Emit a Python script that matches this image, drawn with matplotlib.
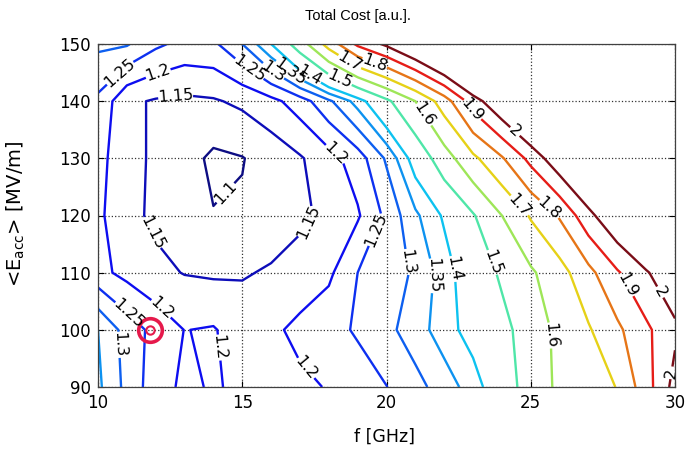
import numpy as np
import matplotlib
matplotlib.use('Agg')
import matplotlib.pyplot as plt

plt.rcParams['font.family'] = ['Liberation Sans', 'DejaVu Sans']

# scan grid: rf frequency [GHz] and average accelerating gradient [MV/m]
freq = [10, 11, 12, 13, 14, 15, 16, 17, 18, 19, 20,
        21, 22, 23, 24, 25, 26, 27, 28, 29, 30]
eacc = [90, 100, 110, 120, 130, 140, 150]

# total cost [a.u.], one row per gradient
cost_90 = [1.36, 1.285, 1.222, 1.19, 1.205, 1.19, 1.185, 1.19, 1.203, 1.226, 1.249,
           1.283, 1.324, 1.374, 1.449, 1.544, 1.619, 1.66, 1.703, 1.857, 2.036]
cost_100 = [1.35, 1.279, 1.233, 1.199, 1.204, 1.175, 1.19, 1.2125, 1.233, 1.256, 1.286,
            1.326, 1.376, 1.425, 1.474, 1.544, 1.626, 1.69, 1.78, 1.88, 1.98]
cost_110 = [1.215, 1.185, 1.162, 1.148, 1.143, 1.146, 1.155, 1.17, 1.19, 1.25, 1.276,
            1.307, 1.375, 1.443, 1.514, 1.586, 1.662, 1.771, 1.889, 1.99, 2.08]
cost_120 = [1.21, 1.165, 1.14, 1.125, 1.102, 1.105, 1.125, 1.14, 1.1625, 1.194, 1.262,
            1.34, 1.408, 1.492, 1.6, 1.71, 1.81, 1.97, 2.1, 2.2, 2.3]
cost_130 = [1.215, 1.17, 1.14, 1.12, 1.09, 1.098, 1.12, 1.145, 1.18, 1.225, 1.307,
            1.43, 1.555, 1.678, 1.79, 1.93, 2.08, 2.2, 2.3, 2.4, 2.5]
cost_140 = [1.24, 1.16, 1.145, 1.14, 1.145, 1.16, 1.185, 1.225, 1.29, 1.37, 1.48,
            1.6, 1.75, 1.95, 2.1, 2.25, 2.35, 2.45, 2.55, 2.65, 2.75]
cost_150 = [1.31, 1.305, 1.26, 1.235, 1.24, 1.30, 1.40, 1.55, 1.74, 1.92, 2.02,
            2.15, 2.3, 2.45, 2.6, 2.7, 2.8, 2.9, 3.0, 3.1, 3.2]

levels = [1.1, 1.15, 1.2, 1.25, 1.3, 1.35, 1.4, 1.5, 1.6, 1.7, 1.8, 1.9, 2.0]

# chosen working point
opt_f = 11.8
opt_e = 100

# where the contour labels sit
label_pos = [(10.9, 144.2), (12.1, 144.6), (12.7, 140.5), (15.1, 144.6),
             (16.1, 145.5), (16.7, 145.5), (17.4, 145.0), (18.4, 144.0),
             (18.8, 147.5), (19.6, 146.8), (21.1, 137.0), (22.8, 137.9),
             (24.4, 134.4), (18.2, 130.6), (14.3, 124.5), (11.45, 116.0),
             (17.45, 118.3), (20.05, 116.6), (20.9, 112.0), (21.3, 109.6),
             (22.2, 110.5), (23.4, 111.3), (25.55, 99.0), (24.5, 121.3),
             (25.5, 120.4), (28.3, 107.8), (29.45, 106.5), (29.85, 92.5),
             (11.0, 102.5), (12.15, 103.5), (10.4, 97.3), (14.4, 97.0),
             (17.25, 93.5)]

cost = np.array([cost_90, cost_100, cost_110, cost_120, cost_130, cost_140, cost_150])

# jet colours, softened a little like the screenshot
jet = plt.get_cmap('jet')
lvl_norm = (np.array(levels) - levels[0]) / (levels[-1] - levels[0])
line_cols = [tuple(0.85 * np.array(jet(v)[:3]) + 0.15 * np.array([0.35, 0.35, 0.6]))
             for v in lvl_norm]

fig = plt.figure(figsize=(6.87, 4.5), dpi=100)
ax = fig.add_axes([98 / 687, 1 - 387 / 450, 577 / 687, 343 / 450])

cs = ax.contour(freq, eacc, cost, levels=levels, colors=line_cols, linewidths=1.7)
labs = ax.clabel(cs, fmt='%g', fontsize=11.5, colors='k', inline=True,
                 inline_spacing=2, manual=label_pos)
for t in labs:
    t.set_family('DejaVu Sans')

ax.plot(opt_f, opt_e, 'o', ms=17, mfc='none', mec='#e6194b', mew=2.6)
ax.plot(opt_f, opt_e, 'o', ms=6, mfc='none', mec='#e6194b', mew=1.5)

ax.set_xlim(10, 30)
ax.set_ylim(90, 150)
ax.set_xticks([10, 15, 20, 25, 30])
ax.set_yticks([90, 100, 110, 120, 130, 140, 150])
ax.grid(True, linestyle=':', color='#333333', linewidth=0.9)
ax.tick_params(direction='in', length=4, pad=5, top=True, right=True)
for lab in ax.get_xticklabels() + ax.get_yticklabels():
    lab.set_family('DejaVu Sans')
    lab.set_fontsize(12)
for s in ax.spines.values():
    s.set_color('#404040')
    s.set_linewidth(0.9)

ax.set_xlabel('f [GHz]', fontsize=12.5, family='DejaVu Sans')
ax.xaxis.set_label_coords(0.497, -0.118)
ax.set_ylabel(r'<E$_{\rm acc}$> [MV/m]', fontsize=14, family='DejaVu Sans')
ax.yaxis.set_label_coords(-0.123, 0.505)
fig.text(358 / 687, 1 - 16 / 450, 'Total Cost [a.u.].', ha='center', va='center', fontsize=10.5)

fig.savefig('out.png', dpi=100)
